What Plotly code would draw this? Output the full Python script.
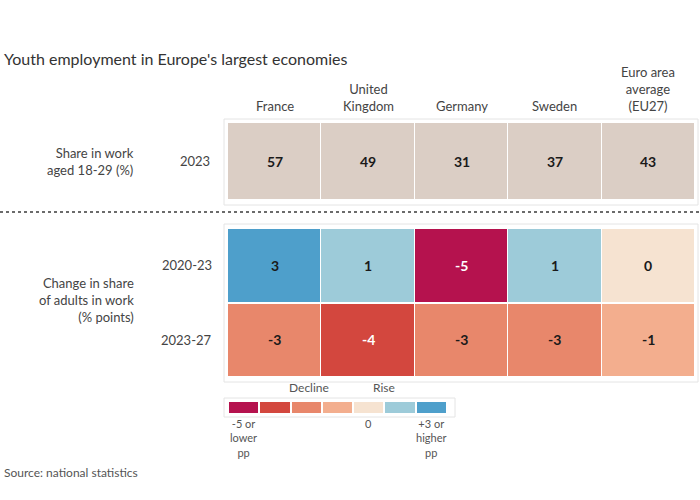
import plotly.graph_objects as go

W, H = 700, 500

title = "Youth employment in Europe's largest economies"
columns = ["France", "United<br>Kingdom", "Germany", "Sweden", "Euro area<br>average<br>(EU27)"]
level_label = "Share in work<br>aged 18-29 (%)"
level_year = ["2023"]
level_values = [57, 49, 31, 37, 43]

change_label = "Change in share<br>of adults in work<br>(% points)"
change_periods = ["2020-23", "2023-27"]
change_values = [[3, 1, -5, 1, 0],
                 [-3, -4, -3, -3, -1]]

legend_colors = ["#b5124e", "#d3473e", "#e8876b", "#f3ae8e", "#f6e3d1", "#9dcbd9", "#4e9fcb"]
legend_top = ["Decline", "Rise"]
legend_bottom = ["-5 or<br>lower<br>pp", "0", "+3 or<br>higher<br>pp"]
source = "Source: national statistics"

def bin_of(v):
    if v <= -5: return 0
    if v == -4: return 1
    if v == -3: return 2
    if v < 0: return 3
    if v == 0: return 4
    if v < 3: return 5
    return 6

def px(x): return x / W
def py(y): return 1 - y / H

def discrete_scale(colors):
    n = len(colors)
    sc = []
    for i, c in enumerate(colors):
        sc.append([i / n, c]); sc.append([(i + 1) / n, c])
    return sc

FONT = "Lato, 'Open Sans', sans-serif"
fig = go.Figure()
xs = list(range(len(columns)))

# top row (levels)
fig.add_trace(go.Heatmap(
    z=[level_values], x=xs, y=[0],
    colorscale=[[0, "#dbcec5"], [1, "#dbcec5"]], showscale=False,
    xgap=1, ygap=1, hoverinfo="skip", xaxis="x", yaxis="y"))
for c, v in enumerate(level_values):
    fig.add_annotation(x=c, y=0, xref="x", yref="y", text="<b>%d</b>" % v,
                       showarrow=False, font=dict(family=FONT, size=14, color="#1a1a1a"))

# change rows
zb = [[bin_of(v) for v in row] for row in change_values]
fig.add_trace(go.Heatmap(
    z=zb, x=xs, y=list(range(len(change_periods))),
    colorscale=discrete_scale(legend_colors), zmin=-0.5, zmax=6.5, showscale=False,
    xgap=1, ygap=2, hoverinfo="skip", xaxis="x2", yaxis="y2"))
for r, row in enumerate(change_values):
    for c, v in enumerate(row):
        fig.add_annotation(x=c, y=r, xref="x2", yref="y2", text="<b>%d</b>" % v,
                           showarrow=False, font=dict(family=FONT, size=14,
                           color="#ffffff" if bin_of(v) <= 1 else "#1a1a1a"))

# legend bar
fig.add_trace(go.Heatmap(
    z=[list(range(len(legend_colors)))], x=list(range(len(legend_colors))), y=[0],
    colorscale=discrete_scale(legend_colors), zmin=-0.5, zmax=6.5, showscale=False,
    xgap=2, ygap=0, hoverinfo="skip", xaxis="x3", yaxis="y3"))

ax = dict(showgrid=False, zeroline=False, showticklabels=False, ticks="", showline=False, fixedrange=True)
fig.update_layout(
    width=W, height=H, margin=dict(l=0, r=0, t=0, b=0),
    paper_bgcolor="white", plot_bgcolor="white",
    xaxis=dict(domain=[px(228), px(695)], anchor="y", range=[-0.5, 4.5], **ax),
    yaxis=dict(domain=[py(200), py(123)], anchor="x", range=[-0.5, 0.5], **ax),
    xaxis2=dict(domain=[px(228), px(695)], anchor="y2", range=[-0.5, 4.5], **ax),
    yaxis2=dict(domain=[py(377), py(228)], anchor="x2", range=[1.5, -0.5], **ax),
    xaxis3=dict(domain=[px(228), px(447)], anchor="y3", range=[-0.5, 6.5], **ax),
    yaxis3=dict(domain=[py(413), py(402)], anchor="x3", range=[-0.5, 0.5], **ax),
    showlegend=False,
    font=dict(family=FONT, color="#333333"),
)

shapes = [
    dict(type="rect", xref="paper", yref="paper", x0=px(224), x1=px(698), y0=py(205), y1=py(119),
         line=dict(color="#e4e4e4", width=1), fillcolor="white", layer="below"),
    dict(type="rect", xref="paper", yref="paper", x0=px(224), x1=px(698), y0=py(382), y1=py(224),
         line=dict(color="#e4e4e4", width=1), fillcolor="white", layer="below"),
    dict(type="rect", xref="paper", yref="paper", x0=px(224), x1=px(455), y0=py(417), y1=py(398),
         line=dict(color="#e4e4e4", width=1), fillcolor="white", layer="below"),
    dict(type="line", xref="paper", yref="paper", x0=0, x1=1, y0=py(212), y1=py(212),
         line=dict(color="#6b6b6b", width=2, dash="dot")),
]
fig.update_layout(shapes=shapes)

ann = []
ann.append(dict(x=px(2), y=py(47), xref="paper", yref="paper", xanchor="left", yanchor="top",
                text=title, showarrow=False, font=dict(family=FONT, size=16, color="#333333")))
for i, c in enumerate(columns):
    ann.append(dict(x=i, y=py(116), xref="x", yref="paper", xanchor="center", yanchor="bottom",
                    text=c, showarrow=False, font=dict(family=FONT, size=13, color="#444444")))
ann.append(dict(x=px(212), y=py(161), xref="paper", yref="paper", xanchor="right", yanchor="middle",
                text=level_year[0], showarrow=False, font=dict(family=FONT, size=13, color="#444444")))
ann.append(dict(x=px(136), y=py(161), xref="paper", yref="paper", xanchor="right", yanchor="middle",
                text=level_label, align="right", showarrow=False, font=dict(family=FONT, size=13, color="#444444")))
for r, p in enumerate(change_periods):
    ann.append(dict(x=px(214), y=r, xref="paper", yref="y2", xanchor="right", yanchor="middle",
                    text=p, showarrow=False, font=dict(family=FONT, size=13, color="#444444")))
ann.append(dict(x=px(136), y=py(300), xref="paper", yref="paper", xanchor="right", yanchor="middle",
                text=change_label, align="right", showarrow=False, font=dict(family=FONT, size=13, color="#444444")))
# legend labels
ann.append(dict(x=2.1, y=py(397), xref="x3", yref="paper", xanchor="center", yanchor="bottom",
                text=legend_top[0], showarrow=False, font=dict(family=FONT, size=12, color="#555555")))
ann.append(dict(x=4.5, y=py(397), xref="x3", yref="paper", xanchor="center", yanchor="bottom",
                text=legend_top[1], showarrow=False, font=dict(family=FONT, size=12, color="#555555")))
ann.append(dict(x=0, y=py(415), xref="x3", yref="paper", xanchor="center", yanchor="top",
                text=legend_bottom[0], showarrow=False, font=dict(family=FONT, size=11, color="#555555")))
ann.append(dict(x=4, y=py(415), xref="x3", yref="paper", xanchor="center", yanchor="top",
                text=legend_bottom[1], showarrow=False, font=dict(family=FONT, size=11, color="#555555")))
ann.append(dict(x=6, y=py(415), xref="x3", yref="paper", xanchor="center", yanchor="top",
                text=legend_bottom[2], showarrow=False, font=dict(family=FONT, size=11, color="#555555")))
ann.append(dict(x=px(2), y=py(463), xref="paper", yref="paper", xanchor="left", yanchor="top",
                text=source, showarrow=False, font=dict(family=FONT, size=12, color="#555555")))
for a in ann:
    fig.add_annotation(**a)

fig.write_html("out.html", config={"displayModeBar": False},
               post_script="document.body.style.margin='0';document.body.style.overflow='hidden';")
